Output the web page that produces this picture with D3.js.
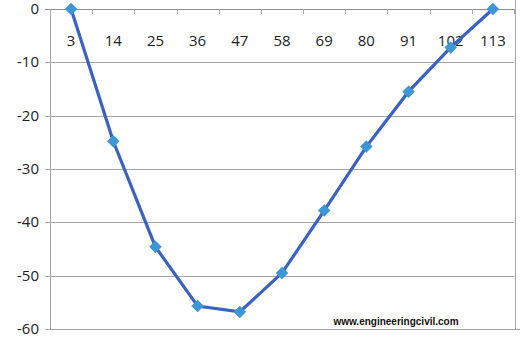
<!DOCTYPE html>
<html lang="en">
<head>
    <meta charset="UTF-8">
    <title>Deflection curve</title>
    <script src="https://d3js.org/d3.v7.min.js"></script>
    <style>
        body { margin: 0; background: #fff; }
        svg { display: block; }
        .tick-label { font-family: "Open Sans", "Liberation Sans", sans-serif; font-size: 15px; fill: #222; }
        .grid { stroke: #a6a6a6; stroke-width: 1; }
        .line { fill: none; stroke: #3a62c2; stroke-width: 3.2px; }
    </style>
</head>
<body>
    <svg class="chart"></svg>
    <script>
        // categories and values
        var categories = ['3', '14', '25', '36', '47', '58', '69', '80', '91', '102', '113'];
        var values = [0, -24.8, -44.6, -55.7, -56.8, -49.5, -37.8, -25.8, -15.5, -7.2, 0];
        var yTicks = [0, -10, -20, -30, -40, -50, -60];

        var svgWidth = 520, svgHeight = 346;
        var plotLeft = 50, plotRight = 514, plotTop = 9, plotBottom = 329;

        var svg = d3.select('.chart')
                    .attr('width', svgWidth)
                    .attr('height', svgHeight);

        var x = d3.scaleBand().domain(categories).range([plotLeft, plotRight]);
        var y = d3.scaleLinear().domain([-60, 0]).range([plotBottom, plotTop]);

        // horizontal gridlines
        svg.selectAll('.hgrid')
           .data(yTicks)
           .enter().append('line')
           .attr('class', 'grid')
           .attr('x1', plotLeft - 5)
           .attr('x2', d => d === -60 ? svgWidth : plotRight)
           .attr('y1', d => Math.round(y(d)) + 0.5)
           .attr('y2', d => Math.round(y(d)) + 0.5)
           .style('stroke', d => d === 0 ? '#8c8c8c' : null);

        // y axis line + right border
        svg.append('line').attr('class', 'grid')
           .attr('x1', plotLeft + 0.5).attr('x2', plotLeft + 0.5)
           .attr('y1', plotTop).attr('y2', plotBottom);
        svg.append('line').attr('class', 'grid')
           .attr('x1', plotRight + 1.5).attr('x2', plotRight + 1.5)
           .attr('y1', 0).attr('y2', plotBottom);

        // x tick marks hanging under the zero line
        var bounds = categories.map(c => x(c)).concat([plotRight]);
        svg.selectAll('.xtick')
           .data(bounds)
           .enter().append('line')
           .attr('class', 'grid')
           .attr('x1', d => Math.round(d) + 0.5)
           .attr('x2', d => Math.round(d) + 0.5)
           .attr('y1', y(0))
           .attr('y2', y(0) + 5);

        // y labels
        svg.selectAll('.ylab')
           .data(yTicks)
           .enter().append('text')
           .attr('class', 'tick-label')
           .attr('text-anchor', 'end')
           .attr('x', plotLeft - 11)
           .attr('y', d => y(d) + 5)
           .text(d => d);

        // x labels
        svg.selectAll('.xlab')
           .data(categories)
           .enter().append('text')
           .attr('class', 'tick-label')
           .attr('text-anchor', 'middle')
           .attr('x', d => x(d) + x.bandwidth() / 2)
           .attr('y', y(0) + 37)
           .text(d => d);

        // the curve
        var line = d3.line()
                     .x((d, i) => x(categories[i]) + x.bandwidth() / 2)
                     .y(d => y(d));

        svg.append('path')
           .datum(values)
           .attr('class', 'line')
           .attr('d', line);

        // diamond markers
        var diamond = d3.symbol().type(d3.symbolDiamond2).size(100);
        svg.selectAll('.marker')
           .data(values)
           .enter().append('path')
           .attr('d', diamond)
           .attr('fill', '#3d97d6')
           .attr('transform', (d, i) => 'translate(' + (x(categories[i]) + x.bandwidth() / 2) + ',' + y(d) + ')');

        // watermark
        svg.append('text')
           .attr('x', 396)
           .attr('y', 325)
           .attr('text-anchor', 'middle')
           .style('font-family', '"Liberation Sans", Arial, sans-serif')
           .style('font-size', '10px')
           .style('font-weight', 'bold')
           .style('fill', '#111')
           .text('www.engineeringcivil.com');
    </script>
</body>
</html>
